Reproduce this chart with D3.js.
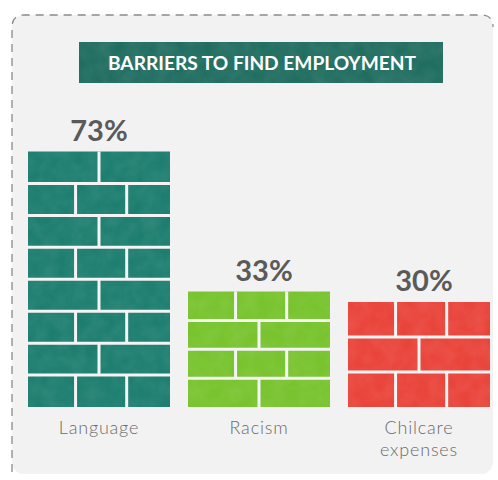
<!DOCTYPE html>
<html>
<head>
<meta charset="utf-8">
<script src="https://cdn.jsdelivr.net/npm/d3@7"></script>
<style>
  html, body { margin: 0; padding: 0; background: #ffffff; }
  svg { display: block; }
</style>
</head>
<body>
<div id="chart"></div>
<script>
(function () {
    'use strict';

    // chart data
    var title = "BARRIERS TO FIND EMPLOYMENT";
    var categories = ["Language", "Racism", "Chilcare expenses"];
    var values = [73, 33, 30];
    var labelLines = [["Language"], ["Racism"], ["Chilcare", "expenses"]];
    var barColors = ["#1d7e6f", "#78c32e", "#e9443a"];

    var width = 498, height = 480;

    var svg = d3.select("#chart")
        .append("svg")
        .attr("width", width)
        .attr("height", height);

    var defs = svg.append("defs");

    // light mottled texture for the bricks and the banner
    var tex = defs.append("filter")
        .attr("id", "grain")
        .attr("color-interpolation-filters", "sRGB")
        .attr("x", 0).attr("y", 0).attr("width", 1).attr("height", 1);
    tex.append("feTurbulence")
        .attr("type", "fractalNoise")
        .attr("baseFrequency", 0.07)
        .attr("numOctaves", 3)
        .attr("seed", 4)
        .attr("result", "noise");
    tex.append("feColorMatrix")
        .attr("in", "noise")
        .attr("type", "matrix")
        .attr("values", "0 0 0 0 1  0 0 0 0 1  0 0 0 0 1  0 0 0 0.12 -0.03")
        .attr("result", "light");
    tex.append("feComposite")
        .attr("in", "light")
        .attr("in2", "SourceGraphic")
        .attr("operator", "atop");

    // card background with dashed border (top and left visible)
    var cx0 = 12, cy0 = 15, cx1 = 493, cy1 = 474, r = 12;
    svg.append("rect")
        .attr("x", cx0).attr("y", cy0)
        .attr("width", cx1 - cx0).attr("height", cy1 - cy0)
        .attr("rx", r)
        .attr("fill", "#f2f2f2");

    svg.append("path")
        .attr("d", "M" + cx0 + "," + (cy1 - 2) +
            " L" + cx0 + "," + (cy0 + r) +
            " Q" + cx0 + "," + cy0 + " " + (cx0 + r) + "," + cy0 +
            " L" + (cx1 - r) + "," + cy0 +
            " Q" + cx1 + "," + cy0 + " " + cx1 + "," + (cy0 + r))
        .attr("fill", "none")
        .attr("stroke", "#8a8a8a")
        .attr("stroke-width", 1.3)
        .style("stroke-dasharray", "8, 6");

    // title banner
    var banner = svg.append("g");
    banner.append("rect")
        .attr("x", 79).attr("y", 42)
        .attr("width", 364).attr("height", 41)
        .attr("fill", "#216e61")
        .attr("filter", "url(#grain)");
    banner.append("text")
        .text(title)
        .attr("x", 262)
        .attr("y", 69.5)
        .attr("text-anchor", "middle")
        .attr("textLength", 308)
        .attr("lengthAdjust", "spacingAndGlyphs")
        .attr("font-family", "Lato, sans-serif")
        .attr("font-weight", 700)
        .attr("font-size", "19px")
        .attr("fill", "#ffffff");

    // scales
    var x = d3.scaleBand()
        .domain(categories)
        .range([28, 490])
        .paddingInner(0.1125);

    var y = d3.scaleLinear()
        .domain([0, 100])
        .range([407, 57]);

    var bars = svg.selectAll("g.bar")
        .data(values)
        .enter()
        .append("g")
        .attr("class", "bar");

    bars.append("rect")
        .attr("x", function (d, i) { return x(categories[i]); })
        .attr("y", function (d) { return y(d); })
        .attr("width", x.bandwidth())
        .attr("height", function (d) { return y(0) - y(d); })
        .attr("fill", function (d, i) { return barColors[i]; })
        .attr("filter", "url(#grain)");

    // brick joints drawn over each bar
    var jointColor = "#f4f4f4";
    bars.each(function (d, i) {
        var g = d3.select(this);
        var x0 = x(categories[i]);
        var w = x.bandwidth();
        var top = y(d);
        var h = y(0) - top;
        var rows = Math.ceil(h / 34 - 0.1);
        var rowH = h / rows;
        var start = i === 0 ? 0 : 1;

        for (var k = 0; k < rows; k++) {
            var ry = top + k * rowH;
            if (k > 0) {
                g.append("line")
                    .attr("x1", x0).attr("x2", x0 + w)
                    .attr("y1", ry).attr("y2", ry)
                    .attr("stroke", jointColor)
                    .attr("stroke-width", 3);
            }
            var splits = ((k + start) % 2 === 0) ? [0.5] : [0.335, 0.695];
            splits.forEach(function (f) {
                g.append("line")
                    .attr("x1", x0 + f * w).attr("x2", x0 + f * w)
                    .attr("y1", ry).attr("y2", ry + rowH)
                    .attr("stroke", jointColor)
                    .attr("stroke-width", 3);
            });
        }
    });

    // value labels
    bars.append("text")
        .text(function (d) { return d + "%"; })
        .attr("x", function (d, i) { return x(categories[i]) + x.bandwidth() / 2 + (i === 0 ? 0 : 5); })
        .attr("y", function (d) { return y(d) - 11; })
        .attr("text-anchor", "middle")
        .attr("font-family", "Lato, sans-serif")
        .attr("font-weight", 700)
        .attr("font-size", "29px")
        .attr("fill", "#5a5a5a");

    // category labels
    bars.append("text")
        .attr("x", function (d, i) { return x(categories[i]) + x.bandwidth() / 2; })
        .attr("y", 434)
        .attr("text-anchor", "middle")
        .attr("font-family", "Lato, sans-serif")
        .attr("font-weight", 300)
        .attr("font-size", "18px")
        .attr("letter-spacing", "0.8px")
        .attr("fill", "#6a6a6a")
        .selectAll("tspan")
        .data(function (d, i) { return labelLines[i]; })
        .enter()
        .append("tspan")
        .attr("x", function () { return d3.select(this.parentNode).attr("x"); })
        .attr("dy", function (t, j) { return j === 0 ? 0 : 22; })
        .text(function (t) { return t; });
}());
</script>
</body>
</html>
